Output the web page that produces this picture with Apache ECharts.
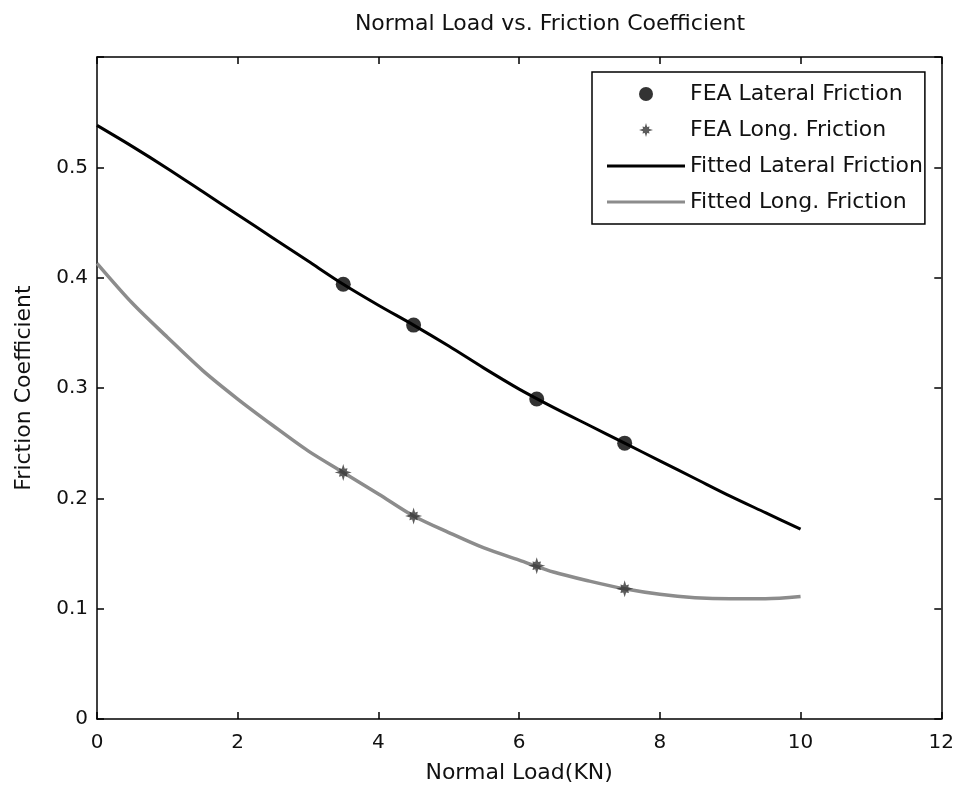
<!DOCTYPE html>
<html>
<head>
<meta charset="utf-8">
<script src="https://cdn.jsdelivr.net/npm/echarts@6/dist/echarts.min.js"></script>
<style>
  html, body { margin: 0; padding: 0; background: #fff; }
  #chart { width: 957px; height: 790px; }
</style>
</head>
<body>
<div id="chart"></div>
<script>
// FEA sample points
var feaLoad = [3.5, 4.5, 6.25, 7.5];
var feaLateral = [0.394, 0.357, 0.290, 0.250];
var feaLong = [0.2235, 0.184, 0.139, 0.118];

// fitted curves
var fitLoad = [0, 0.5, 1, 1.5, 2, 2.5, 3, 3.5, 4, 4.5, 5, 5.5, 6, 6.5, 7, 7.5, 8, 8.5, 9, 9.5, 10];
var fitLateral = [0.538, 0.519, 0.499, 0.478, 0.457, 0.436, 0.415, 0.394, 0.375, 0.357, 0.338,
  0.318, 0.299, 0.282, 0.266, 0.250, 0.234, 0.218, 0.202, 0.187, 0.172];
var fitLong = [0.413, 0.377, 0.346, 0.316, 0.290, 0.266, 0.243, 0.2235, 0.204, 0.184, 0.169,
  0.155, 0.144, 0.133, 0.125, 0.118, 0.113, 0.110, 0.109, 0.109, 0.111];

var xTicks = [0, 2, 4, 6, 8, 10, 12];
var yTicks = [0, 0.1, 0.2, 0.3, 0.4, 0.5];

var FONT = '"DejaVu Sans", Verdana, sans-serif';
var starPath = 'path://M20 10L14.2 11.7L15 15L11.7 14.2L10 20L8.3 14.2L5 15L5.8 11.7L0 10L5.8 8.3L5 5L8.3 5.8L10 0L11.7 5.8L15 5L14.2 8.3Z';
var lineIcon = 'path://M0 0H78V3H0Z';

function pairs(xs, ys) {
  return xs.map(function (x, i) { return [x, ys[i]]; });
}

var chart = echarts.init(document.getElementById('chart'));

var axisLine = { show: true, onZero: false, lineStyle: { color: '#000', width: 1.5 } };
var tickIn = { show: true, inside: true, length: 7, lineStyle: { color: '#000', width: 1.5 } };

chart.setOption({
  animation: false,
  backgroundColor: '#fff',
  title: {
    text: 'Normal Load vs. Friction Coefficient',
    left: 545, top: 8, textAlign: 'center',
    textStyle: { fontFamily: FONT, fontSize: 22, fontWeight: 'normal', color: '#111' }
  },
  grid: { left: 97, right: 14, top: 57, bottom: 71 },
  legend: {
    orient: 'vertical',
    left: 592, top: 72,
    padding: [11, 2, 11, 15],
    itemWidth: 78, itemHeight: 14, itemGap: 14,
    backgroundColor: '#fff',
    borderColor: '#000', borderWidth: 1.5,
    textStyle: { fontFamily: FONT, fontSize: 22, color: '#111' },
    data: [
      { name: 'FEA Lateral Friction', icon: 'circle' },
      { name: 'FEA Long. Friction', icon: starPath },
      { name: 'Fitted Lateral Friction', icon: lineIcon },
      { name: 'Fitted Long. Friction', icon: lineIcon }
    ]
  },
  xAxis: [{
    type: 'value', min: 0, max: 12, interval: 2, position: 'bottom',
    name: 'Normal Load(KN)', nameLocation: 'middle', nameGap: 43,
    nameTextStyle: { fontFamily: FONT, fontSize: 22, color: '#111' },
    axisLine: axisLine, axisTick: tickIn,
    axisLabel: { fontFamily: FONT, fontSize: 20, color: '#111', margin: 14 },
    splitLine: { show: false }
  }, {
    type: 'value', min: 0, max: 12, interval: 2, position: 'top',
    axisLine: axisLine, axisTick: tickIn,
    axisLabel: { show: false }, splitLine: { show: false }
  }],
  yAxis: [{
    type: 'value', min: 0, max: 0.6, interval: 0.1, position: 'left',
    name: 'Friction Coefficient', nameLocation: 'middle', nameGap: 62,
    nameTextStyle: { fontFamily: FONT, fontSize: 22, color: '#111' },
    axisLine: axisLine, axisTick: tickIn,
    axisLabel: {
      fontFamily: FONT, fontSize: 20, color: '#111', margin: 9,
      formatter: function (v) {
        var r = Math.round(v * 10) / 10;
        return yTicks.indexOf(r) >= 0 ? String(r) : '';
      }
    },
    splitLine: { show: false }
  }, {
    type: 'value', min: 0, max: 0.6, interval: 0.1, position: 'right',
    axisLine: axisLine, axisTick: tickIn,
    axisLabel: { show: false }, splitLine: { show: false }
  }],
  series: [{
    name: 'Fitted Lateral Friction',
    type: 'line', smooth: 0.3, showSymbol: false, symbol: 'none',
    data: pairs(fitLoad, fitLateral),
    itemStyle: { color: '#000' },
    lineStyle: { color: '#000', width: 3 },
    z: 2
  }, {
    name: 'Fitted Long. Friction',
    type: 'line', smooth: 0.3, showSymbol: false, symbol: 'none',
    data: pairs(fitLoad, fitLong),
    itemStyle: { color: '#8c8c8c' },
    lineStyle: { color: '#8c8c8c', width: 3.5 },
    z: 2
  }, {
    name: 'FEA Lateral Friction',
    type: 'scatter', symbol: 'circle', symbolSize: 15,
    data: pairs(feaLoad, feaLateral),
    itemStyle: { color: '#000' },
    z: 3
  }, {
    name: 'FEA Long. Friction',
    type: 'scatter', symbol: starPath, symbolSize: 17,
    data: pairs(feaLoad, feaLong),
    itemStyle: { color: '#333' },
    z: 3
  }]
});
</script>
</body>
</html>
